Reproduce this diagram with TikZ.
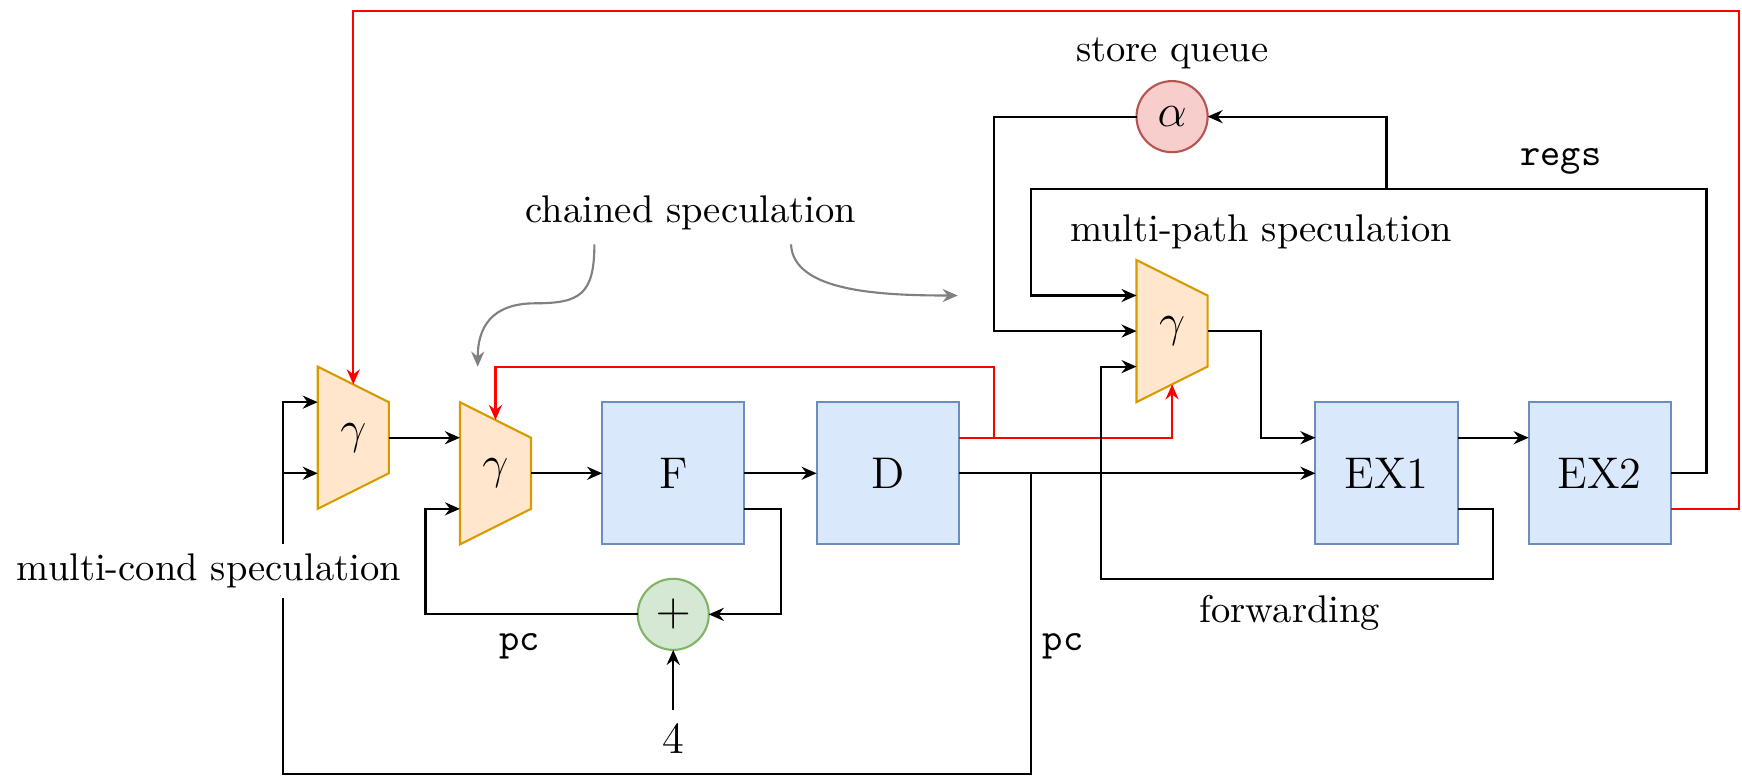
\documentclass[tikz,border=0pt]{standalone}
\usetikzlibrary{calc,arrows.meta}
\definecolor{boxfill}{HTML}{DAE8FC}
\definecolor{boxline}{HTML}{6C8EBF}
\definecolor{muxfill}{HTML}{FFE6CC}
\definecolor{muxline}{HTML}{D79B00}
\definecolor{sqfill}{HTML}{F8CECC}
\definecolor{sqline}{HTML}{B85450}
\definecolor{addfill}{HTML}{D5E8D4}
\definecolor{addline}{HTML}{82B366}
\definecolor{curvegray}{HTML}{808080}
\def\U{0.288pt}
\newcommand{\bigf}{\fontsize{11.5}{14}\selectfont}
\newcommand{\muxat}[3]{%
  \path[draw=muxline,fill=muxfill] ({#2-32},{#3-64}) -- ({#2+32},{#3-32}) -- ({#2+32},{#3+32}) -- ({#2-32},{#3+64}) -- cycle;
  \node[muxn] (#1) at (#2,#3) {\bigf$\gamma$};}
\begin{document}
\begin{tikzpicture}[x=\U, y=-\U, line width=0.55pt,
  >={Stealth[length=3.9pt,width=3.4pt,inset=1.3pt]},
  muxn/.style={rectangle, draw=none, minimum width={64*\U}, minimum height={128*\U}, inner sep=0pt, outer sep=0pt},
  blk/.style={rectangle, draw=boxline, fill=boxfill, minimum width={128*\U}, minimum height={128*\U}, inner sep=0pt, outer sep=0pt, font=\bigf},
  sq/.style={circle, draw=sqline, fill=sqfill, minimum size={64*\U}, inner sep=0pt, outer sep=0pt, font=\bigf},
  add/.style={circle, draw=addline, fill=addfill, minimum size={64*\U}, inner sep=0pt, outer sep=0pt, font=\bigf},
  lbl/.style={draw=none, font=\fontsize{10}{12}\selectfont},
  redwire/.style={draw=red},
  gcurve/.style={draw=curvegray, ->}]
\useasboundingbox (0,0) rectangle (1568,700);
\muxat{ma}{318}{394}
\muxat{mb}{446}{426}
\muxat{mc}{1055}{298}
\node[blk] (F) at (606,426) {F};
\node[blk] (D) at (799,426) {D};
\node[blk] (EXa) at (1248,426) {EX1};
\node[blk] (EXb) at (1440,426) {EX2};
\node[sq] (sq) at (1055,105) {$\alpha$};
\node[add] (add) at (606,553) {$+$};
\node[lbl, font=\bigf] (four) at (606,665) {4};
\node[lbl] (lsq) at (1055,48) {store queue};
\node[lbl] (lregs) at (1405,145) {\texttt{regs}};
\node[lbl] (lmp) at (1135,209) {multi-path speculation};
\node[lbl] (lch) at (622,192) {chained speculation};
\node[lbl, inner ysep=2.3pt] (lmc) at (188,514) {multi-cond speculation};
\node[lbl] (pca) at (468,582) {\texttt{pc}};
\node[lbl] (pcb) at (957,582) {\texttt{pc}};
\node[lbl] (lfw) at (1161,552) {forwarding};

\coordinate (busx) at (255,0);
\coordinate (jD) at ($(D.east)+(65,0)$);
\coordinate (jR) at ($(D.east)+(32,-32)$);
\coordinate (fwd) at (991,521);
\coordinate (regtop) at (928,170);
\coordinate (jsq) at (1248,170);
\coordinate (bot) at (255,697);
\coordinate (topR) at (1565,10);

% multi-cond inputs
\draw[->] (lmc.north -| busx) |- ($(ma.west)+(0,-32)$);
\draw[->] ($(ma.west -| busx)+(0,32)$) -- ($(ma.west)+(0,32)$);
\draw (jD) |- (bot) -- (lmc.south -| busx);
% main pipeline
\draw[->] (ma.east) -- ($(mb.west)+(0,-32)$);
\draw[->] (mb.east) -- (F.west);
\draw[->] (F.east) -- (D.west);
\draw[->] ($(F.east)+(0,32)$) -- ++(33,0) |- (add.east);
\draw[->] (add.west) -- ++(-191,0) |- ($(mb.west)+(0,32)$);
\draw[->] (four.north) -- (add.south);
\draw[->] (D.east) -- (EXa.west);
\draw[->, redwire] ($(D.east)+(0,-32)$) -| ($(mc.south)+(0,-16)$);
\draw[->, redwire] (jR) -- ++(0,-64) -| ($(mb.north)+(0,16)$);
\draw[->] (mc.east) -- ++(48,0) |- ($(EXa.west)+(0,-32)$);
\draw[->] ($(EXa.east)+(0,-32)$) -- ($(EXb.west)+(0,-32)$);
\draw[->] ($(EXa.east)+(0,32)$) -- ++(32,0) |- (fwd) |- ($(mc.west)+(0,32)$);
\draw[->] (EXb.east) -- ++(32,0) |- (regtop) |- ($(mc.west)+(0,-32)$);
\draw[->] (jsq) |- (sq.east);
\draw[->] (sq.west) -- ++(-128,0) |- (mc.west);
\draw[->, redwire] ($(EXb.east)+(0,32)$) -| (topR) -| ($(ma.north)+(0,16)$);
% annotation curves
\draw[gcurve] ($(lch.south)+(-87,0)$) .. controls (535,265) and (522,273) .. (482,273) .. controls (442,273) and (430,295) .. (430,330);
\draw[gcurve] ($(lch.south)+(90,0)$) .. controls (714,262) and (790,266) .. (862,266);
\end{tikzpicture}
\end{document}
